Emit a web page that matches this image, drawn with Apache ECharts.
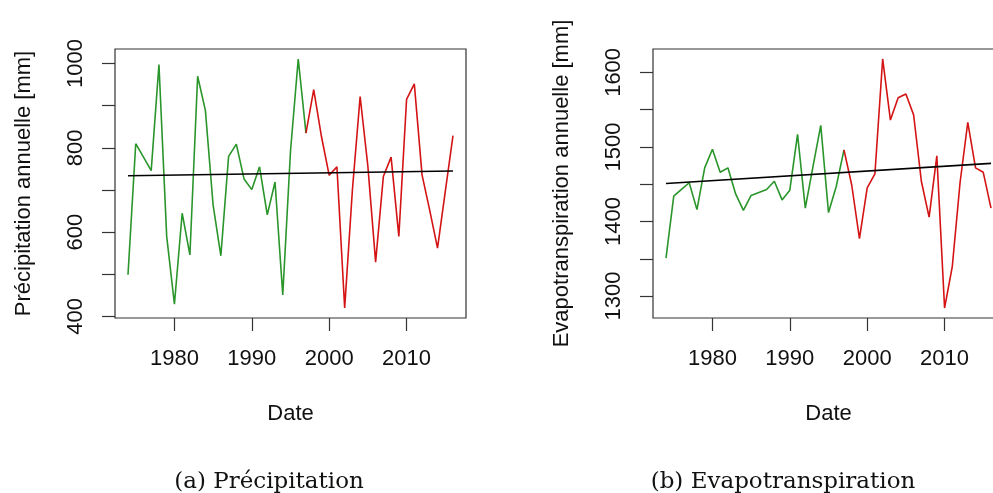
<!DOCTYPE html>
<html>
<head>
<meta charset="utf-8">
<script src="https://cdn.jsdelivr.net/npm/echarts@6/dist/echarts.min.js"></script>
<style>
  html, body { margin: 0; padding: 0; background: #fff; overflow: hidden; }
  /* le panneau (b) est coupé à droite dans l'original */
  #chart { width: 1010px; height: 493px; }
</style>
</head>
<body>
<div id="chart"></div>
<script>
var years = [1974, 1975, 1976, 1977, 1978, 1979, 1980, 1981, 1982, 1983,
             1984, 1985, 1986, 1987, 1988, 1989, 1990, 1991, 1992, 1993,
             1994, 1995, 1996, 1997, 1998, 1999, 2000, 2001, 2002, 2003,
             2004, 2005, 2006, 2007, 2008, 2009, 2010, 2011, 2012, 2013,
             2014, 2015, 2016];
var splitYear = 1997;

// précipitation annuelle [mm]
var precip = [499, 810, 778, 746, 998, 590, 429, 645, 546, 970,
              889, 664, 544, 780, 809, 726, 701, 755, 641, 719,
              451, 792, 1011, 835, 938, 827, 735, 755, 420, 700,
              922, 756, 529, 732, 778, 590, 915, 952, 736, 651,
              562, 696, 829];
// evapotranspiration annuelle [mm]
var evap = [1351, 1434, 1443, 1452, 1416, 1472, 1497, 1466, 1472, 1437,
            1415, 1435, 1439, 1443, 1454, 1429, 1442, 1517, 1418, 1474,
            1529, 1412, 1447, 1496, 1449, 1377, 1445, 1464, 1618, 1536,
            1566, 1571, 1543, 1454, 1406, 1488, 1284, 1340, 1452, 1533,
            1472, 1466, 1418];

// droites de tendance (début, fin)
var trendYears = [1974, 2016];
var trendPrecip = [734, 745];
var trendEvap = [1451, 1478];

var xTicks = [1980, 1990, 2000, 2010];
var precipTicks = [400, 500, 600, 700, 800, 900, 1000];
var precipLabels = [400, 600, 800, 1000];
var evapTicks = [1300, 1350, 1400, 1450, 1500, 1550, 1600];
var evapLabels = [1300, 1400, 1500, 1600];

var GREEN = '#2a952a', RED = '#d41414';
var FONT = 'Liberation Sans';

function pairs(xs, ys, from, to) {
    var out = [];
    for (var i = 0; i < xs.length; i++) {
        if (xs[i] >= from && xs[i] <= to) out.push([xs[i], ys[i]]);
    }
    return out;
}
// marge de 4 % comme dans R
function padMin(e) { return e.min - 0.04 * (e.max - e.min); }
function padMax(e) { return e.max + 0.04 * (e.max - e.min); }

function xAxisFor(idx) {
    return {
        gridIndex: idx, type: 'value', min: padMin, max: padMax,
        axisLine: { show: false }, splitLine: { show: false },
        axisTick: { show: true, length: 13, customValues: xTicks,
                    lineStyle: { color: '#333', width: 1.2 } },
        axisLabel: { customValues: xTicks, margin: 30, fontSize: 22,
                     color: '#111', fontFamily: FONT,
                     formatter: function (v) { return String(v); } },
        name: 'Date', nameLocation: 'middle', nameGap: 85,
        nameTextStyle: { fontSize: 22, color: '#111', fontFamily: FONT }
    };
}
function yAxisFor(idx, ticks, labels, title) {
    return {
        gridIndex: idx, type: 'value', min: padMin, max: padMax,
        axisLine: { show: false }, splitLine: { show: false },
        axisTick: { show: true, length: 13, customValues: ticks,
                    lineStyle: { color: '#333', width: 1.2 } },
        axisLabel: { customValues: labels, rotate: 90, margin: 28, fontSize: 22,
                     color: '#111', fontFamily: FONT,
                     formatter: function (v) { return String(v); } },
        name: title, nameLocation: 'middle', nameGap: 80,
        nameTextStyle: { fontSize: 22, color: '#111', fontFamily: FONT }
    };
}
function line(idx, data, color) {
    return {
        type: 'line', xAxisIndex: idx, yAxisIndex: idx, data: data,
        showSymbol: false, symbol: 'none', silent: true,
        lineStyle: { color: color, width: 1.6 }
    };
}

var chart = echarts.init(document.getElementById('chart'));
chart.setOption({
    animation: false,
    backgroundColor: '#fff',
    title: [
        { text: '(a) Précipitation', left: 264, top: 466, textAlign: 'center',
          textStyle: { fontFamily: 'DejaVu Serif', fontSize: 23, fontWeight: 'normal', color: '#111' } },
        { text: '(b) Evapotranspiration', left: 778, top: 466, textAlign: 'center',
          textStyle: { fontFamily: 'DejaVu Serif', fontSize: 23, fontWeight: 'normal', color: '#111' } }
    ],
    grid: [
        { left: 115, top: 49, width: 351, height: 269, show: true,
          borderColor: '#333', borderWidth: 1.2, backgroundColor: 'transparent' },
        { left: 653, top: 49, width: 351, height: 269, show: true,
          borderColor: '#333', borderWidth: 1.2, backgroundColor: 'transparent' }
    ],
    xAxis: [xAxisFor(0), xAxisFor(1)],
    yAxis: [
        yAxisFor(0, precipTicks, precipLabels, 'Précipitation annuelle [mm]'),
        yAxisFor(1, evapTicks, evapLabels, 'Evapotranspiration annuelle [mm]')
    ],
    series: [
        line(0, pairs(years, precip, 1974, splitYear), GREEN),
        line(0, pairs(years, precip, splitYear, 2016), RED),
        line(0, [[trendYears[0], trendPrecip[0]], [trendYears[1], trendPrecip[1]]], '#000'),
        line(1, pairs(years, evap, 1974, splitYear), GREEN),
        line(1, pairs(years, evap, splitYear, 2016), RED),
        line(1, [[trendYears[0], trendEvap[0]], [trendYears[1], trendEvap[1]]], '#000')
    ]
});
</script>
</body>
</html>
